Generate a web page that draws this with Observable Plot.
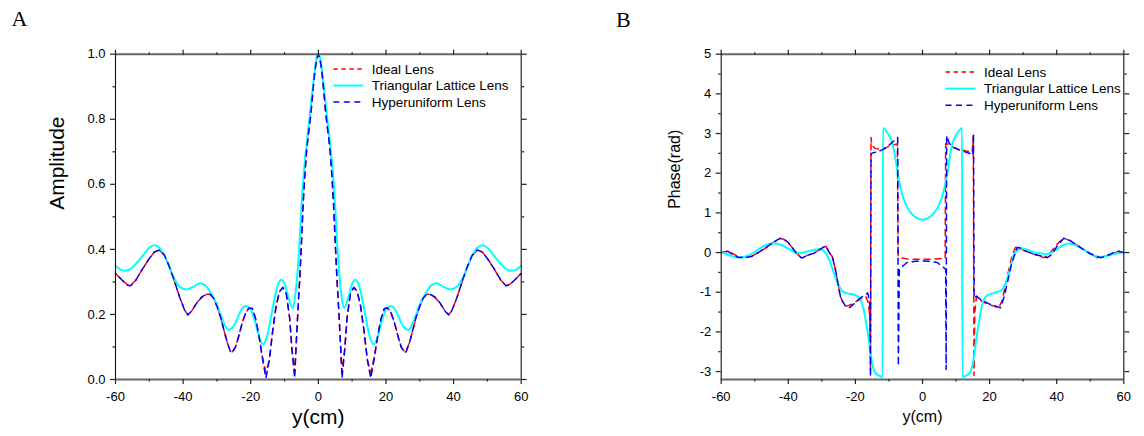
<!DOCTYPE html>
<html>
<head>
<meta charset="utf-8">
<script src="https://cdn.jsdelivr.net/npm/d3@7"></script>
<script src="https://cdn.jsdelivr.net/npm/@observablehq/plot@0.6"></script>
<style>
  html, body { margin: 0; padding: 0; background: #fff; }
  #wrap { position: relative; width: 1144px; height: 436px; overflow: hidden; background: #fff; }
  #wrap > svg, #wrap > figure { position: absolute; top: 0; margin: 0; }
  .panel-tag { position: absolute; font-family: 'Liberation Serif', 'Times New Roman', serif; font-size: 22px; line-height: 1; color: #000; }
</style>
</head>
<body>
<div id="wrap"></div>
<script>
// ---------------- Data ----------------
// Panel A: amplitude, dashed series (Ideal / Hyperuniform) share positions
const ampDashPos = [-60,-58,-56.5,-55.5,-54,-52,-50,-48.5,-47,-45.5,-44,-42.5,-41,-39.5,-38.6,-37.5,-36,-34.5,-33,-32,-31,-30,-29,-28,-27,-26,-25.5,-24.5,-23.5,-22.5,-21.5,-20.5,-19.5,-18.5,-17.5,-16.5,-15.5,-14.5,-13.5,-12.5,-11.5,-10.5,-9.5,-8.5,-7.8,-7,-6.5,-6,-5.5,-5,-4.5,-4,-3.5,-3,-2.5,-2,-1.5,-1,-0.5,0,
  0.5,1,1.5,2,2.5,3,3.5,4,4.5,5,5.5,6,6.5,7,7.8,8.5,9.5,10.5,11.5,12.5,13.5,14.5,15.5,16.5,17.5,18.5,19.5,20.5,21.5,22.5,23.5,24.5,25.5,26,27,28,29,30,31,32,33,34.5,36,37.5,38.6,39.5,41,42.5,44,45.5,47,48.5,50,52,54,55.5,56.5,58,60];
const ampIdeal = [0.326,0.305,0.292,0.290,0.305,0.340,0.372,0.392,0.398,0.380,0.345,0.300,0.252,0.212,0.200,0.210,0.235,0.252,0.262,0.262,0.250,0.225,0.195,0.155,0.115,0.088,0.085,0.100,0.135,0.175,0.205,0.220,0.215,0.185,0.130,0.068,0.022,0.060,0.150,0.225,0.270,0.283,0.265,0.190,0.095,0.022,0.12,0.22,0.31,0.42,0.54,0.63,0.70,0.75,0.79,0.84,0.90,0.95,0.985,1.0,
  0.985,0.95,0.90,0.84,0.79,0.75,0.70,0.63,0.54,0.42,0.31,0.22,0.12,0.022,0.095,0.190,0.265,0.283,0.270,0.225,0.150,0.060,0.022,0.068,0.130,0.185,0.215,0.220,0.205,0.175,0.135,0.100,0.085,0.088,0.115,0.155,0.195,0.225,0.250,0.262,0.262,0.252,0.235,0.210,0.200,0.212,0.252,0.300,0.345,0.380,0.398,0.392,0.372,0.340,0.305,0.290,0.292,0.305,0.326];
const ampHyper = [0.326,0.305,0.290,0.288,0.305,0.340,0.372,0.392,0.398,0.382,0.345,0.300,0.252,0.212,0.198,0.210,0.235,0.254,0.262,0.262,0.250,0.225,0.195,0.155,0.115,0.086,0.082,0.100,0.135,0.175,0.205,0.220,0.218,0.185,0.130,0.062,0.004,0.060,0.150,0.225,0.270,0.283,0.265,0.190,0.090,0.004,0.12,0.22,0.31,0.42,0.54,0.63,0.70,0.75,0.79,0.84,0.90,0.95,0.985,1.0,
  0.985,0.95,0.90,0.84,0.79,0.75,0.70,0.63,0.54,0.42,0.31,0.22,0.12,0.004,0.090,0.190,0.265,0.283,0.270,0.225,0.150,0.060,0.004,0.062,0.130,0.185,0.218,0.220,0.205,0.175,0.135,0.100,0.082,0.086,0.115,0.155,0.195,0.225,0.250,0.262,0.262,0.254,0.235,0.210,0.198,0.212,0.252,0.300,0.345,0.382,0.398,0.392,0.372,0.340,0.305,0.288,0.290,0.305,0.326];
// Panel A: Triangular lattice lens
const ampTriPos = [-60,-58.5,-57,-55.5,-54,-52,-50,-48.5,-47,-45,-43,-41,-39,-37,-35,-33.5,-32,-30,-28,-26.7,-25,-23,-21.5,-20,-18.5,-17.5,-16.3,-15,-13.5,-12,-11,-10,-8.8,-7.6,-7,-6.5,-6,-5.5,-5,-4.5,-4,-3.5,-3,-2.5,-2,-1.5,-1,-0.5,0,
  0.5,1,1.5,2,2.5,3,3.5,4,4.5,5,5.5,6,6.5,7,7.6,8.8,10,11,12,13.5,15,16.3,17.5,18.5,20,21.5,23,25,26.7,28,30,32,33.5,35,37,39,41,43,45,47,48.5,50,52,54,55.5,57,58.5,60];
const ampTri = [0.350,0.338,0.334,0.340,0.355,0.380,0.405,0.413,0.405,0.370,0.318,0.285,0.277,0.285,0.296,0.290,0.270,0.230,0.175,0.153,0.165,0.210,0.226,0.215,0.170,0.130,0.108,0.140,0.220,0.290,0.307,0.295,0.250,0.220,0.245,0.29,0.35,0.43,0.53,0.61,0.67,0.72,0.77,0.815,0.865,0.91,0.955,0.99,1.0,
  0.99,0.955,0.91,0.865,0.815,0.77,0.72,0.67,0.61,0.53,0.43,0.35,0.29,0.245,0.220,0.250,0.295,0.307,0.290,0.220,0.140,0.108,0.130,0.170,0.215,0.226,0.210,0.165,0.153,0.175,0.230,0.270,0.290,0.296,0.285,0.277,0.285,0.318,0.370,0.405,0.413,0.405,0.380,0.355,0.340,0.334,0.338,0.350];

// Panel B: phase
const phIdealPos = [-60,-58,-56.5,-55,-53,-51,-49,-47,-44.8,-42.5,-41.5,-40,-38.9,-37.5,-36,-34,-32.4,-31,-29.4,-28.8,-27.8,-26.9,-25.9,-25.4,-24.5,-23.5,-22.5,-21,-19.5,-18,-16.8,-16.2,-15.7,-15.5,-15.35,-15.1,-14,-12.5,-11,-9.5,-8.5,-7.5,-7.35,-7.25,-6,-4,-2,0,2,4,6,6.75,6.9,8,9.3,11,13,14.8,15.15,15.35,15.6,16.1,17,18.3,20.5,22.75,23.8,25.2,26.5,27.7,28.7,30,33.2,36.2,37.7,40,42.1,44,47.1,49.5,52,54,57,58.5,60];
const phIdeal = [0,0.04,-0.03,-0.1,-0.12,-0.1,0.0,0.1,0.24,0.35,0.34,0.25,0.13,-0.02,-0.14,-0.06,-0.02,0.06,0.14,0.16,0.0,-0.1,-0.45,-0.68,-1.1,-1.3,-1.35,-1.3,-1.22,-1.15,-1.12,-1.25,-1.6,-3.0,2.9,2.7,2.62,2.6,2.64,2.7,2.72,2.74,1.0,-0.1,-0.14,-0.17,-0.17,-0.17,-0.17,-0.16,-0.15,-0.15,2.74,2.72,2.65,2.6,2.56,2.53,2.95,-3.1,-1.5,-1.1,-1.18,-1.26,-1.33,-1.39,-1.2,-0.63,-0.15,0.13,0.14,0.06,-0.04,-0.13,-0.05,0.2,0.36,0.3,0.13,0.0,-0.13,-0.1,-0.02,0.03,0.0];
const phHyperPos = [-60,-58,-56.5,-55,-53,-51,-49,-47,-44.8,-42.5,-41.5,-40,-38.9,-37.5,-36,-34,-32.4,-31,-29.4,-28.8,-27.8,-26.9,-25.9,-25.4,-24.4,-23,-22,-20.5,-19,-17.5,-16.3,-15.7,-15.5,-15.35,-14,-12.5,-11,-9,-7.4,-7.2,-6.9,-6,-4.6,-2,0,2,4.4,6.35,6.9,7.05,7.2,8,9.3,11.5,14.3,15.0,15.2,15.4,16,17.3,20,23.25,24.2,25.2,26.5,28.2,29,31,33.2,37.2,38.5,40,42.1,44,47,50,53.1,55,58,60];
const phHyper = [0,0.03,-0.05,-0.12,-0.13,-0.1,0.0,0.1,0.24,0.36,0.35,0.25,0.13,-0.02,-0.14,-0.06,-0.02,0.06,0.14,0.17,0.0,-0.1,-0.45,-0.68,-1.14,-1.35,-1.4,-1.3,-1.18,-1.08,-1.02,-1.3,-3.14,2.5,2.53,2.57,2.63,2.78,2.9,-2.86,-0.42,-0.35,-0.25,-0.22,-0.21,-0.22,-0.25,-0.38,-0.42,-2.95,2.95,2.75,2.65,2.57,2.49,2.45,3.0,-1.15,-1.1,-1.18,-1.3,-1.39,-1.15,-0.8,-0.3,0.13,0.12,0.03,-0.04,-0.13,-0.05,0.15,0.36,0.3,0.13,-0.03,-0.13,-0.08,0.04,0.0];
const phTriPos = [-60,-58,-56,-54.2,-52,-50,-48.3,-46,-44.3,-42,-40,-38.5,-36.9,-35,-33,-31,-30,-29.2,-28.4,-27.5,-26.7,-25.9,-25,-23.9,-22.5,-21,-20,-19,-18.2,-17.5,-17,-16.5,-16,-15.5,-15,-14,-13,-11.9,-11.8,-11,-10,-9,-8.2,-7.5,-7,-6.5,-6,-5.5,-5,-4.5,-4,-3,-2,-1,0,1,2,3,4,4.5,5,5.5,6,6.5,7,7.5,8.2,9,10,11,11.8,11.9,13,14,15,15.5,16,16.5,17,17.8,18.5,19.5,20.5,22,23.5,24.5,25.4,26.3,27.2,28.2,29,30.2,31,33,35,37,38.5,40,42,43.6,46,48,50,52,53.5,55,57,58.5,60];
const phTri = [0,-0.05,-0.11,-0.125,-0.08,0.02,0.12,0.21,0.236,0.19,0.1,0.02,-0.02,0.01,0.06,0.085,0.07,0.02,-0.08,-0.25,-0.45,-0.65,-0.82,-0.97,-1.03,-1.05,-1.08,-1.13,-1.25,-1.45,-1.68,-1.92,-2.2,-2.55,-2.8,-3.04,-3.1,-3.14,3.14,3.08,2.96,2.76,2.45,2.05,1.82,1.62,1.45,1.32,1.22,1.13,1.06,0.96,0.89,0.845,0.83,0.845,0.89,0.96,1.06,1.13,1.22,1.32,1.45,1.62,1.82,2.05,2.45,2.76,2.96,3.08,3.14,-3.14,-3.1,-3.04,-2.8,-2.55,-2.2,-1.92,-1.68,-1.3,-1.15,-1.07,-1.04,-1.0,-0.95,-0.83,-0.62,-0.35,-0.06,0.05,0.09,0.1,0.08,0.01,-0.02,-0.04,0.0,0.08,0.19,0.23,0.17,0.07,-0.03,-0.1,-0.11,-0.08,-0.04,-0.01,0];

// Ticks and labels
const xMajor = [-60,-40,-20,0,20,40,60];
const xMinor = [-50,-30,-10,10,30,50];
const ampMajor = [0,0.2,0.4,0.6,0.8,1.0];
const ampMinor = [0.1,0.3,0.5,0.7,0.9];
const phMajor = [-3,-2,-1,0,1,2,3,4,5];
const phMinor = [-2.5,-1.5,-0.5,0.5,1.5,2.5,3.5,4.5];
const seriesNames = ["Ideal Lens", "Triangular Lattice Lens", "Hyperuniform Lens"];
const seriesColors = ["#ff0000", "#00ffff", "#0000ff"];
const seriesDash = ["6,5", null, "6,5"];
const seriesDashOffset = [0, 0, -5.5];
const seriesWidth = [1.5, 2, 1.5];

// ---------------- Drawing ----------------
const FONT = "'Liberation Sans', Arial, Helvetica, sans-serif";
const zip = (xs, vs) => xs.map((x, i) => ({x, v: vs[i]}));

function lineMark(data, idx, curve) {
  return Plot.line(data, {
    x: "x", y: "v", stroke: seriesColors[idx], strokeWidth: seriesWidth[idx],
    strokeDasharray: seriesDash[idx] || undefined,
    strokeDashoffset: seriesDash[idx] ? seriesDashOffset[idx] : undefined,
    curve, strokeLinejoin: "round"
  });
}

function panel(o) {
  const fmt = d => `${d}`;
  const blank = () => "";
  return Plot.plot({
    width: o.width, height: 436,
    marginLeft: o.marginLeft, marginRight: o.marginRight, marginTop: 53.7, marginBottom: 57,
    style: {fontFamily: FONT, background: "transparent", color: "#000", overflow: "visible"},
    x: {domain: [-60, 60], label: null},
    y: {domain: o.yDomain, label: null},
    marks: [
      lineMark(zip(o.ideal[0], o.ideal[1]), 0, "linear"),
      lineMark(zip(o.tri[0], o.tri[1]), 1, "monotone-x"),
      lineMark(zip(o.hyper[0], o.hyper[1]), 2, "linear"),
      Plot.ruleY([o.yDomain[0], o.yDomain[1]], {stroke: "#666", strokeWidth: 2}),
      Plot.ruleX([-60, 60], {stroke: "#111", strokeWidth: 1.1}),
      Plot.axisX({ticks: xMajor, tickSize: 5, tickPadding: 7, fontSize: 13, tickFormat: fmt, label: null, stroke: "#222", strokeWidth: 1.2}),
      Plot.axisX({ticks: xMinor, tickSize: 2.5, tickFormat: blank, label: null, stroke: "#222", strokeWidth: 1.2}),
      Plot.axisX({anchor: "top", ticks: xMajor, tickSize: 5, tickFormat: blank, label: null, stroke: "#222", strokeWidth: 1.2}),
      Plot.axisX({anchor: "top", ticks: xMinor, tickSize: 2.5, tickFormat: blank, label: null, stroke: "#222", strokeWidth: 1.2}),
      Plot.axisY({ticks: o.yMajor, tickSize: 5, tickPadding: 5, fontSize: 13, tickFormat: o.yFormat, label: null, stroke: "#222", strokeWidth: 1.2}),
      Plot.axisY({ticks: o.yMinor, tickSize: 2.5, tickFormat: blank, label: null, stroke: "#222", strokeWidth: 1.2}),
      Plot.axisY({anchor: "right", ticks: o.yMajor, tickSize: 5, tickFormat: blank, label: null, stroke: "#222", strokeWidth: 1.2}),
      Plot.axisY({anchor: "right", ticks: o.yMinor, tickSize: 2.5, tickFormat: blank, label: null, stroke: "#222", strokeWidth: 1.2}),
      Plot.text([o.yLabel], {text: d => d, frameAnchor: "left", rotate: -90, dx: o.yLabelDx, dy: o.yLabelDy, fontSize: o.labelSize, fill: "#000"}),
      Plot.text(["y(cm)"], {text: d => d, frameAnchor: "bottom", dy: o.xLabelDy, fontSize: o.labelSize, fill: "#000"})
    ]
  });
}

const wrap = document.getElementById("wrap");

const chartA = panel({
  width: 560, marginLeft: 115, marginRight: 39.3,
  yDomain: [0, 1], yMajor: ampMajor, yMinor: ampMinor, yFormat: d3.format(".1f"),
  ideal: [ampDashPos, ampIdeal], tri: [ampTriPos, ampTri], hyper: [ampDashPos, ampHyper],
  yLabel: "Amplitude", yLabelDx: -58, yLabelDy: -7, labelSize: 21, xLabelDy: 44
});
chartA.style.left = "0px";
wrap.appendChild(chartA);

const chartB = panel({
  width: 572, marginLeft: 148.7, marginRight: 20.7,
  yDomain: [-3.2, 5], yMajor: phMajor, yMinor: phMinor, yFormat: d => `${d}`,
  ideal: [phIdealPos, phIdeal], tri: [phTriPos, phTri], hyper: [phHyperPos, phHyper],
  yLabel: "Phase(rad)", yLabelDx: -46.7, yLabelDy: -8, labelSize: 16, xLabelDy: 42.5
});
chartB.style.left = "572px";
wrap.appendChild(chartB);

// Panel tags
[["A", 11.5, 8], ["B", 616, 8.5]].forEach(([t, x, y]) => {
  const d = document.createElement("div");
  d.className = "panel-tag"; d.textContent = t;
  d.style.left = x + "px"; d.style.top = y + "px";
  wrap.appendChild(d);
});

// Legends (inside each plot frame)
function legend(x0, y0, step) {
  const svg = d3.create("svg").attr("width", 1144).attr("height", 436)
    .style("position", "absolute").style("left", "0px").style("top", "0px")
    .style("pointer-events", "none").style("font-family", FONT);
  seriesNames.forEach((name, i) => {
    const y = y0 + i * step;
    svg.append("line").attr("x1", x0).attr("x2", x0 + 30).attr("y1", y).attr("y2", y)
      .attr("stroke", seriesColors[i]).attr("stroke-width", seriesWidth[i])
      .attr("stroke-dasharray", i === 0 ? "4.5,3.5" : (i === 2 ? "6,4.5" : null));
    svg.append("text").attr("x", x0 + 38.5).attr("y", y + 4.8)
      .attr("font-size", 13.5).attr("fill", "#000").text(name);
  });
  wrap.appendChild(svg.node());
}
legend(333.3, 69, 16.5);
legend(945.5, 72, 16.6);
</script>
</body>
</html>
